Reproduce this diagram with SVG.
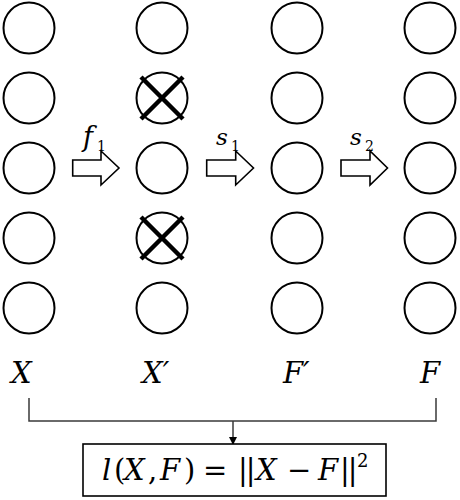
<svg xmlns="http://www.w3.org/2000/svg" width="460" height="500" viewBox="0 0 460 500">
<defs>
<style>
.n{fill:#fff;stroke:#000;stroke-width:2}
.x{stroke:#000;stroke-width:4.5;stroke-linecap:butt}
.ba{fill:#fff;stroke:#000;stroke-width:1.6;stroke-linejoin:miter}
.br{fill:none;stroke:#3a3a3a;stroke-width:1.5}
.t{font-family:"DejaVu Serif","Liberation Serif",serif;fill:#000}
.i{font-style:italic}
.nb{letter-spacing:-2px}
</style>
<marker id="ah" markerWidth="8" markerHeight="8" refX="7" refY="4" orient="auto" markerUnits="userSpaceOnUse">
<path d="M0,0 L8,4 L0,8 Z" fill="#000"/>
</marker>
</defs>
<rect width="460" height="500" fill="#fff"/>
<g id="col-X">
<g id="x1"><circle class="n" cx="29" cy="28" r="25.5"/></g>
<g id="x2"><circle class="n" cx="29" cy="98" r="25.5"/></g>
<g id="x3"><circle class="n" cx="29" cy="168" r="25.5"/></g>
<g id="x4"><circle class="n" cx="29" cy="238" r="25.5"/></g>
<g id="x5"><circle class="n" cx="29" cy="308" r="25.5"/></g>
</g>
<g id="col-Xp">
<g id="xp1"><circle class="n" cx="162" cy="28" r="25.5"/></g>
<g id="xp2"><circle class="n" cx="162" cy="98" r="25.5"/><path class="x" d="M141,77 L183,119 M183,77 L141,119"/></g>
<g id="xp3"><circle class="n" cx="162" cy="168" r="25.5"/></g>
<g id="xp4"><circle class="n" cx="162" cy="238" r="25.5"/><path class="x" d="M141,217 L183,259 M183,217 L141,259"/></g>
<g id="xp5"><circle class="n" cx="162" cy="308" r="25.5"/></g>
</g>
<g id="col-Fp">
<g id="fp1"><circle class="n" cx="297" cy="28" r="25.5"/></g>
<g id="fp2"><circle class="n" cx="297" cy="98" r="25.5"/></g>
<g id="fp3"><circle class="n" cx="297" cy="168" r="25.5"/></g>
<g id="fp4"><circle class="n" cx="297" cy="238" r="25.5"/></g>
<g id="fp5"><circle class="n" cx="297" cy="308" r="25.5"/></g>
</g>
<g id="col-F">
<g id="f1"><circle class="n" cx="430" cy="28" r="25.5"/></g>
<g id="f2"><circle class="n" cx="430" cy="98" r="25.5"/></g>
<g id="f3"><circle class="n" cx="430" cy="168" r="25.5"/></g>
<g id="f4"><circle class="n" cx="430" cy="238" r="25.5"/></g>
<g id="f5"><circle class="n" cx="430" cy="308" r="25.5"/></g>
</g>
<g id="connectors">
<polygon class="ba" points="72.7,160 101,160 101,151 119,168 101,185 101,176 72.7,176"/>
<polygon class="ba" points="206.7,160 235.7,160 235.7,151 253.5,168 235.7,185 235.7,176 206.7,176"/>
<polygon class="ba" points="341,160 370,160 370,151 387.5,168 370,185 370,176 341,176"/>
<path class="br" d="M29,398 V421 H436 V398"/>
<path class="br" d="M233,421 V444" marker-end="url(#ah)"/>
</g>
<g id="arrow-labels">
<text class="t i" x="83" y="146" font-size="27">f</text>
<text class="t" x="97" y="151" font-size="14">1</text>
<text class="t i" x="216" y="145" font-size="23">s</text>
<text class="t" x="231" y="151" font-size="14">1</text>
<text class="t i" x="350" y="145" font-size="23">s</text>
<text class="t" x="365" y="151" font-size="14">2</text>
</g>
<g id="col-labels">
<text class="t i" x="11" y="383" font-size="29">X</text>
<text class="t i" x="142" y="383" font-size="29">X′</text>
<text class="t i" x="283" y="383" font-size="29">F′</text>
<text class="t i" x="420" y="383" font-size="29">F</text>
</g>
<g id="loss">
<rect x="83" y="444" width="303" height="52" fill="#fff" stroke="#000" stroke-width="1.6"/>
<text class="t" y="480" font-size="29"><tspan class="i" x="102">l</tspan><tspan x="114">(</tspan><tspan class="i" x="124">X</tspan><tspan x="148">,</tspan><tspan class="i" x="160">F</tspan><tspan x="184">)</tspan><tspan x="203">=</tspan><tspan class="nb" x="238">||</tspan><tspan class="i" x="256">X</tspan><tspan x="287">−</tspan><tspan class="i" x="318">F</tspan><tspan class="nb" x="340">||</tspan><tspan x="357" y="467" font-size="18">2</tspan></text>
</g>
</svg>
